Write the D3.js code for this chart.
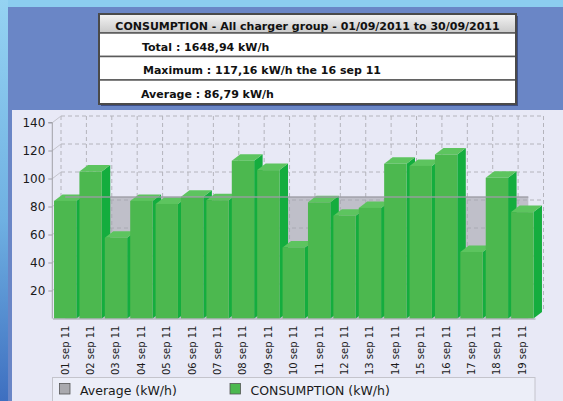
<!DOCTYPE html>
<html>
<head>
<meta charset="utf-8">
<script src="https://cdn.jsdelivr.net/npm/d3@7"></script>
<style>
  html, body { margin: 0; padding: 0; background: #6a86c6; }
  svg { display: block; font-family: "DejaVu Sans", Verdana, sans-serif; }
</style>
</head>
<body>
<svg id="chart" width="563" height="401"></svg>
<script>
// data
const days = ['01 sep 11', '02 sep 11', '03 sep 11', '04 sep 11', '05 sep 11', '06 sep 11',
  '07 sep 11', '08 sep 11', '09 sep 11', '10 sep 11', '11 sep 11', '12 sep 11', '13 sep 11',
  '14 sep 11', '15 sep 11', '16 sep 11', '17 sep 11', '18 sep 11', '19 sep 11']
const consumption = [84, 105, 57.7, 84, 81.8, 87, 84.5, 112.7, 106, 50.8, 83, 73.4, 79,
  110.5, 109, 117.16, 47.5, 100.5, 76]
const average = 86.79
const yTicks = [20, 40, 60, 80, 100, 120, 140]
const headerTitle = 'CONSUMPTION - All charger group - 01/09/2011 to 30/09/2011'
const headerLines = ['Total : 1648,94 kW/h', 'Maximum : 117,16 kW/h the 16 sep 11', 'Average : 86,79 kW/h']
const legendItems = [
  { name: 'Average (kW/h)', color: '#a9a9ae' },
  { name: 'CONSUMPTION (kW/h)', color: '#4cb84f' }
]

const svg = d3.select('#chart')
const W = 563, H = 401

// depth of the 3d effect
const dx = 8.5, dy = -6.5

const defs = svg.append('defs')
const leftGrad = defs.append('linearGradient').attr('id', 'leftStrip')
  .attr('x1', 0).attr('y1', 0).attr('x2', 0).attr('y2', 1)
leftGrad.append('stop').attr('offset', '0%').attr('stop-color', '#95d3f2')
leftGrad.append('stop').attr('offset', '55%').attr('stop-color', '#6fb0e2')
leftGrad.append('stop').attr('offset', '100%').attr('stop-color', '#3e6fc0')
const titleGrad = defs.append('linearGradient').attr('id', 'titleBg')
  .attr('x1', 0).attr('y1', 0).attr('x2', 0).attr('y2', 1)
titleGrad.append('stop').attr('offset', '0%').attr('stop-color', '#f4f4f4')
titleGrad.append('stop').attr('offset', '100%').attr('stop-color', '#c9c9c9')

// page background
svg.append('rect').attr('width', W).attr('height', H).attr('fill', '#6a86c6')
svg.append('rect').attr('width', W).attr('height', 7).attr('fill', '#8ccdef')
svg.append('rect').attr('width', 8).attr('height', H).attr('fill', 'url(#leftStrip)')

// header box
const hb = { x: 99, y: 14, w: 417, rows: [19, 23.5, 23.5, 24] }
const header = svg.append('g')
header.append('rect')
  .attr('x', hb.x + 2).attr('y', hb.y + 2)
  .attr('width', hb.w).attr('height', d3.sum(hb.rows))
  .attr('fill', '#3d4f86')
let ry = hb.y
hb.rows.forEach((h, i) => {
  header.append('rect')
    .attr('x', hb.x).attr('y', ry).attr('width', hb.w).attr('height', h)
    .attr('fill', i === 0 ? 'url(#titleBg)' : '#fff')
    .attr('stroke', '#5a5a5a').attr('stroke-width', 1.5)
  ry += h
})
header.append('rect')
  .attr('x', hb.x).attr('y', hb.y).attr('width', hb.w).attr('height', d3.sum(hb.rows))
  .attr('fill', 'none').attr('stroke', '#4a4a4a').attr('stroke-width', 2)
header.append('text')
  .attr('x', hb.x + hb.w / 2).attr('y', 29.5)
  .attr('text-anchor', 'middle')
  .style('font-size', '11px').style('font-weight', 'bold').attr('fill', '#111')
  .text(headerTitle)
const lineX = [142, 143, 141]
const lineY = [50.5, 74, 97.5]
headerLines.forEach((t, i) => {
  header.append('text')
    .attr('x', lineX[i]).attr('y', lineY[i])
    .style('font-size', '11px').style('font-weight', 'bold').attr('fill', '#111')
    .text(t)
})

// chart panel
svg.append('rect').attr('x', 12).attr('y', 110).attr('width', W - 12).attr('height', H - 110)
  .attr('fill', '#e8e9f6')

// scales
const x = d3.scaleBand().domain(days).range([52.5, 535]).paddingInner(0.12).paddingOuter(0.06)
const xWall = d3.scaleBand().domain(days).range([52.5 + dx, 535 + dx])
const y = d3.scaleLinear().domain([0, 140]).range([318.5, 122.5])

// back wall grid
const grid = svg.append('g').attr('stroke', '#b4b4bc').attr('stroke-width', 1)
  .attr('stroke-dasharray', '4,3').attr('fill', 'none')
grid.selectAll('.hg').data(yTicks).join('line')
  .attr('x1', xWall.range()[0]).attr('x2', xWall.range()[1])
  .attr('y1', d => y(d) + dy).attr('y2', d => y(d) + dy)
const bounds = days.map(d => xWall(d)).concat([xWall.range()[1]])
grid.selectAll('.vg').data(bounds).join('line')
  .attr('x1', d => d).attr('x2', d => d)
  .attr('y1', y(140) + dy).attr('y2', y(0) + dy)
svg.append('g').selectAll('line').data(yTicks).join('line')
  .attr('x1', x.range()[0]).attr('x2', x.range()[0] + dx)
  .attr('y1', d => y(d)).attr('y2', d => y(d) + dy)
  .attr('stroke', '#c4c4cc')

// average area behind the bars
const avgX0 = x(days[0]) + x.bandwidth() / 2
const avgX1 = x(days[days.length - 1]) + x.bandwidth() / 2 + 6
svg.append('rect')
  .attr('x', avgX0).attr('y', y(average))
  .attr('width', avgX1 - avgX0).attr('height', y(0) - y(average))
  .attr('fill', '#a4a4ac').attr('fill-opacity', 0.6)

// 3d bars, left to right so each front hides the previous side
const bars = svg.append('g')
days.forEach((d, i) => {
  const x0 = x(d), x1 = x(d) + x.bandwidth()
  const yv = y(consumption[i]), y0 = y(0)
  const g = bars.append('g')
  g.append('polygon')
    .attr('points', [[x1, yv], [x1 + dx, yv + dy], [x1 + dx, y0 + dy], [x1, y0]].join(' '))
    .attr('fill', '#14ad3e')
  g.append('polygon')
    .attr('points', [[x0, yv], [x0 + dx, yv + dy], [x1 + dx, yv + dy], [x1, yv]].join(' '))
    .attr('fill', '#5dc45f')
  g.append('rect')
    .attr('x', x0).attr('y', yv)
    .attr('width', x.bandwidth()).attr('height', y0 - yv)
    .attr('fill', '#4cb84f')
})

// average line on top
svg.append('line')
  .attr('x1', avgX0).attr('x2', avgX1)
  .attr('y1', y(average)).attr('y2', y(average))
  .attr('stroke', '#9c9ca4').attr('stroke-width', 1.5).attr('stroke-opacity', 0.9)

// y axis
const yAxis = svg.append('g')
  .attr('transform', `translate(${x.range()[0] - 0.2},0)`)
  .call(d3.axisLeft(y).tickValues(yTicks).tickSize(4).tickPadding(3))
yAxis.select('.domain').attr('stroke', '#a0a0a8').attr('d', `M-4,${y(140)}H0V${y(0)}`)
yAxis.selectAll('.tick line').attr('stroke', '#a0a0a8')
yAxis.selectAll('text').style('font-size', '12px').attr('fill', '#1a1a1a')
  .style('font-family', '"DejaVu Sans", Verdana, sans-serif')

// x axis labels, rotated
const xAxis = svg.append('g')
  .attr('transform', `translate(0,${y(0)})`)
  .call(d3.axisBottom(x).tickSize(0).tickPadding(6))
xAxis.select('.domain').attr('stroke', '#a0a0a8')
xAxis.selectAll('text')
  .style('font-size', '10px').attr('fill', '#1a1a1a')
  .style('font-family', '"DejaVu Sans", Verdana, sans-serif')
  .attr('text-anchor', 'end')
  .attr('transform', 'rotate(-90)')
  .attr('x', -7).attr('y', 0).attr('dy', '0.35em')

// legend
const lg = svg.append('g')
lg.append('rect').attr('x', 52.5).attr('y', 377.5).attr('width', 482.5).attr('height', 24)
  .attr('fill', '#eceef8').attr('stroke', '#c4c4cc')
const legendX = [59.5, 230]
legendItems.forEach((it, i) => {
  lg.append('rect')
    .attr('x', legendX[i]).attr('y', 383.5).attr('width', 10.5).attr('height', 10.5)
    .attr('fill', it.color).attr('stroke', '#555').attr('stroke-width', 0.8)
  lg.append('text')
    .attr('x', legendX[i] + 20.5).attr('y', 394.5)
    .style('font-size', '12.5px').attr('fill', '#1a1a1a')
    .text(it.name)
})
</script>
</body>
</html>
